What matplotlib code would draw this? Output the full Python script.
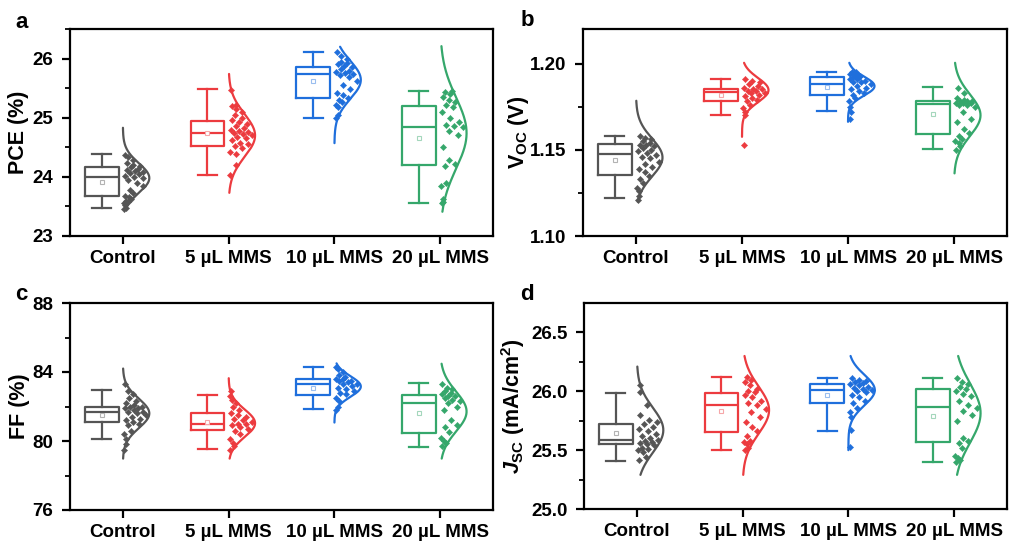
import numpy as np
import matplotlib
matplotlib.use("Agg")
import matplotlib.pyplot as plt

plt.rcParams['font.family'] = ['Liberation Sans', 'DejaVu Sans']
plt.rcParams['font.weight'] = 'bold'
plt.rcParams['mathtext.fontset'] = 'custom'
plt.rcParams['mathtext.rm'] = 'Liberation Sans:bold'
plt.rcParams['mathtext.it'] = 'Liberation Sans:italic:bold'
plt.rcParams['mathtext.bf'] = 'Liberation Sans:bold'

groups = ['Control', '5 µL MMS', '10 µL MMS', '20 µL MMS']
colors = ['#555555', '#ec3b3f', '#1f6fdc', '#35a76b']

# ---------------- PCE (%) ----------------
pce_control = [23.46, 23.48, 23.52, 23.55, 23.58, 23.60, 23.63, 23.66, 23.68, 23.72,
               23.78, 23.84, 23.90, 23.95, 23.98, 24.00, 24.02, 24.04, 24.06, 24.08,
               24.10, 24.12, 24.14, 24.16, 24.18, 24.20, 24.24, 24.28, 24.33, 24.37]
pce_5 = [24.03, 24.20, 24.38, 24.42, 24.48, 24.52, 24.55, 24.58, 24.62, 24.65,
         24.68, 24.70, 24.72, 24.74, 24.76, 24.78, 24.80, 24.83, 24.86, 24.90,
         24.93, 24.96, 25.00, 25.05, 25.10, 25.15, 25.20, 25.22, 25.47]
pce_10 = [24.99, 25.05, 25.18, 25.22, 25.26, 25.30, 25.34, 25.38, 25.42, 25.48,
          25.55, 25.62, 25.68, 25.72, 25.74, 25.75, 25.77, 25.79, 25.82, 25.85,
          25.88, 25.90, 25.93, 25.95, 26.00, 26.05, 26.11]
pce_20 = [23.56, 23.58, 23.62, 23.85, 23.90, 24.18, 24.22, 24.28, 24.50, 24.70,
          24.78, 24.84, 24.86, 24.88, 24.92, 25.00, 25.10, 25.18, 25.22, 25.26,
          25.30, 25.35, 25.40, 25.44, 25.46]
# box statistics: whisker low, Q1, median, Q3, whisker high, mean
pce_box = [(23.47, 23.68, 24.00, 24.16, 24.38, 23.92),
           (24.03, 24.52, 24.74, 24.94, 25.48, 24.74),
           (24.99, 25.34, 25.74, 25.86, 26.11, 25.62),
           (23.56, 24.20, 24.85, 25.20, 25.46, 24.65)]
# normal curves: centre, sigma, lower end, upper end
pce_curve = [(23.98, 0.25, 23.44, 24.83),
             (24.70, 0.36, 23.73, 25.74),
             (25.64, 0.32, 24.57, 26.20),
             (24.74, 0.60, 23.41, 26.21)]

# ---------------- Voc (V) ----------------
voc_control = [1.121, 1.123, 1.126, 1.128, 1.131, 1.133, 1.135, 1.137, 1.139, 1.140,
               1.142, 1.143, 1.145, 1.146, 1.147, 1.148, 1.149, 1.150, 1.151, 1.152,
               1.153, 1.153, 1.154, 1.155, 1.156, 1.157, 1.158]
voc_5 = [1.153, 1.170, 1.172, 1.174, 1.176, 1.178, 1.179, 1.180, 1.181, 1.182,
         1.183, 1.183, 1.184, 1.184, 1.185, 1.185, 1.186, 1.187, 1.188, 1.189,
         1.190, 1.191]
voc_10 = [1.168, 1.172, 1.175, 1.178, 1.180, 1.182, 1.183, 1.184, 1.185, 1.186,
          1.187, 1.188, 1.189, 1.189, 1.190, 1.191, 1.191, 1.192, 1.192, 1.193,
          1.193, 1.194, 1.194, 1.195, 1.195]
voc_20 = [1.150, 1.152, 1.154, 1.155, 1.156, 1.158, 1.160, 1.162, 1.166, 1.168,
          1.172, 1.175, 1.176, 1.176, 1.177, 1.177, 1.177, 1.178, 1.178, 1.178,
          1.179, 1.180, 1.183, 1.186]
voc_box = [(1.1218, 1.1353, 1.1475, 1.1533, 1.1579, 1.1440),
           (1.1701, 1.1784, 1.1834, 1.1855, 1.1911, 1.1820),
           (1.1726, 1.1819, 1.1884, 1.1919, 1.1952, 1.1861),
           (1.1502, 1.1589, 1.1763, 1.1782, 1.1865, 1.1707)]
voc_curve = [(1.1455, 0.0110, 1.1199, 1.1784),
             (1.1846, 0.0070, 1.1575, 1.2004),
             (1.1869, 0.0055, 1.1662, 1.2004),
             (1.1700, 0.0120, 1.1363, 1.2004)]

# ---------------- FF (%) ----------------
ff_control = [79.5, 79.8, 80.1, 80.4, 80.6, 80.9, 81.0, 81.1, 81.2, 81.3,
              81.4, 81.5, 81.6, 81.7, 81.7, 81.8, 81.9, 81.9, 82.0, 82.0,
              82.1, 82.2, 82.3, 82.5, 82.7, 82.9, 83.3]
ff_5 = [79.5, 79.7, 79.9, 80.1, 80.4, 80.6, 80.7, 80.8, 80.9, 81.0,
        81.0, 81.1, 81.2, 81.3, 81.4, 81.5, 81.6, 81.8, 82.0, 82.2,
        82.4, 82.6, 82.9]
ff_10 = [81.8, 82.0, 82.3, 82.5, 82.7, 82.8, 82.9, 83.0, 83.1, 83.2,
         83.3, 83.3, 83.4, 83.5, 83.5, 83.6, 83.6, 83.7, 83.8, 84.0,
         84.2, 84.3]
ff_20 = [79.7, 79.9, 80.0, 80.2, 80.5, 80.8, 80.9, 81.2, 81.8, 82.0,
         82.2, 82.3, 82.4, 82.5, 82.6, 82.6, 82.7, 82.8, 82.9, 83.0,
         83.1, 83.3]
ff_box = [(80.10, 81.13, 81.71, 82.00, 82.93, 81.48),
          (79.54, 80.61, 80.99, 81.61, 82.64, 81.13),
          (81.84, 82.66, 83.32, 83.59, 84.28, 83.10),
          (79.64, 80.47, 82.19, 82.64, 83.34, 81.65)]
ff_curve = [(81.60, 0.85, 78.98, 84.20),
            (81.03, 0.80, 78.98, 83.64),
            (83.16, 0.60, 81.07, 84.50),
            (81.71, 1.15, 78.98, 84.48)]

# ---------------- Jsc (mA/cm2) ----------------
jsc_control = [25.42, 25.44, 25.48, 25.50, 25.51, 25.52, 25.54, 25.55, 25.56, 25.57,
               25.58, 25.59, 25.60, 25.62, 25.64, 25.66, 25.68, 25.70, 25.72, 25.74,
               25.76, 25.80, 25.88, 25.99, 26.05]
jsc_5 = [25.50, 25.52, 25.55, 25.57, 25.58, 25.62, 25.66, 25.70, 25.74, 25.78,
         25.82, 25.85, 25.88, 25.90, 25.92, 25.95, 25.97, 25.99, 26.00, 26.02,
         26.05, 26.08, 26.10, 26.12]
jsc_10 = [25.53, 25.67, 25.78, 25.82, 25.86, 25.90, 25.92, 25.95, 25.97, 25.99,
          26.00, 26.01, 26.02, 26.03, 26.04, 26.05, 26.06, 26.07, 26.08, 26.09,
          26.10, 26.11]
jsc_20 = [25.40, 25.42, 25.43, 25.45, 25.52, 25.56, 25.58, 25.60, 25.75, 25.80,
          25.83, 25.86, 25.88, 25.92, 25.96, 25.98, 26.00, 26.02, 26.04, 26.06,
          26.08, 26.11]
jsc_box = [(25.41, 25.55, 25.59, 25.72, 25.985, 25.645),
           (25.50, 25.657, 25.886, 25.985, 26.118, 25.835),
           (25.665, 25.90, 26.008, 26.061, 26.112, 25.968),
           (25.396, 25.569, 25.863, 26.022, 26.112, 25.79)]
jsc_curve = [(25.67, 0.19, 25.29, 26.21),
             (25.84, 0.20, 25.29, 26.30),
             (26.01, 0.13, 25.50, 26.30),
             (25.815, 0.25, 25.29, 26.30)]

BOX_SHIFT = -0.2
BOX_W = 0.32
AMP = 0.25


def lighten(c, f=0.55):
    rgb = np.array(matplotlib.colors.to_rgb(c))
    return tuple(rgb + (1 - rgb) * f)


def draw_panel(ax, series, boxes, curves, ylim, yticks, yminor, fmt, ylabel, label_x):
    for i, (vals, bx, cv, col) in enumerate(zip(series, boxes, curves, colors)):
        pos = i + 1
        lo, q1, med, q3, hi, mean = bx
        stats = [dict(whislo=lo, q1=q1, med=med, q3=q3, whishi=hi, mean=mean, fliers=[])]
        lw = 1.6
        ax.bxp(stats, positions=[pos + BOX_SHIFT], widths=BOX_W, capwidths=0.18,
               showmeans=True, showfliers=False,
               boxprops=dict(color=col, lw=lw),
               whiskerprops=dict(color=col, lw=lw),
               capprops=dict(color=col, lw=lw),
               medianprops=dict(color=col, lw=lw),
               meanprops=dict(marker='s', markersize=3.5, markerfacecolor='white',
                              markeredgecolor=lighten(col), markeredgewidth=0.8))
        mu, sig, ylo, yhi = cv
        yy = np.linspace(ylo, yhi, 300)
        ax.plot(pos + AMP * np.exp(-0.5 * ((yy - mu) / sig) ** 2), yy, color=col, lw=lw,
                solid_capstyle='round')
        v = np.asarray(vals)
        dens = AMP * np.exp(-0.5 * ((v - mu) / sig) ** 2)
        frac = (np.arange(len(v)) * 0.618034 + 0.15) % 1.0
        xs = pos + 0.012 + frac * np.maximum(dens * 0.92 - 0.012, 0.02)
        ax.plot(xs, v, ls='none', marker='D', markersize=3.2, color=col, mec=col, mew=0.3)

    ax.set_xlim(0.5, 4.5)
    ax.set_ylim(*ylim)
    ax.set_xticks([1, 2, 3, 4])
    ax.set_xticklabels(groups)
    ax.set_yticks(yticks)
    ax.set_yticklabels([fmt.format(t) for t in yticks])
    ax.set_yticks(yminor, minor=True)
    ax.tick_params(axis='both', which='major', direction='out', length=6, width=1.6,
                   labelsize=13.5, top=False, right=False)
    ax.tick_params(axis='y', which='minor', direction='out', length=3.5, width=1.3,
                   right=False)
    ax.tick_params(axis='x', which='major', pad=4)
    ax.tick_params(axis='y', which='major', pad=6)
    for s in ax.spines.values():
        s.set_linewidth(1.6)
    ax.set_ylabel(ylabel, fontsize=15.5, fontweight='bold')
    ax.yaxis.set_label_coords(label_x, 0.5)


fig = plt.figure(figsize=(10.09, 5.42), dpi=100)
W, H = 1009.0, 542.0


def add_axes(left, top, right, bottom):
    return fig.add_axes([left / W, 1 - bottom / H, (right - left) / W, (bottom - top) / H])


ax_a = add_axes(70, 29, 493, 236)
ax_b = add_axes(583, 29, 1007, 236)
ax_c = add_axes(70, 303, 493, 510)
ax_d = add_axes(584, 303, 1007, 509)

draw_panel(ax_a, [pce_control, pce_5, pce_10, pce_20], pce_box, pce_curve,
           (23, 26.5), [23, 24, 25, 26], [23.5, 24.5, 25.5, 26.5], '{:.0f}',
           'PCE (%)', -0.096)
draw_panel(ax_b, [voc_control, voc_5, voc_10, voc_20], voc_box, voc_curve,
           (1.10, 1.22), [1.10, 1.15, 1.20], [1.125, 1.175], '{:.2f}',
           r'$\mathrm{V}_{\mathrm{OC}}$ (V)', -0.122)
draw_panel(ax_c, [ff_control, ff_5, ff_10, ff_20], ff_box, ff_curve,
           (76, 88), [76, 80, 84, 88], [78, 82, 86], '{:.0f}',
           'FF (%)', -0.094)
draw_panel(ax_d, [jsc_control, jsc_5, jsc_10, jsc_20], jsc_box, jsc_curve,
           (25.0, 26.75), [25.0, 25.5, 26.0, 26.5], [25.25, 25.75, 26.25], '{:.1f}',
           r'$J_{\mathrm{SC}}$ (mA/cm$^{2}$)', -0.134)

for txt, x, y in [('a', 15, 22), ('b', 521, 21), ('c', 15, 295), ('d', 520, 294)]:
    fig.text(x / W, 1 - y / H, txt, fontsize=16, fontweight='bold', va='center', ha='left')

fig.savefig('out.png', dpi=100)
